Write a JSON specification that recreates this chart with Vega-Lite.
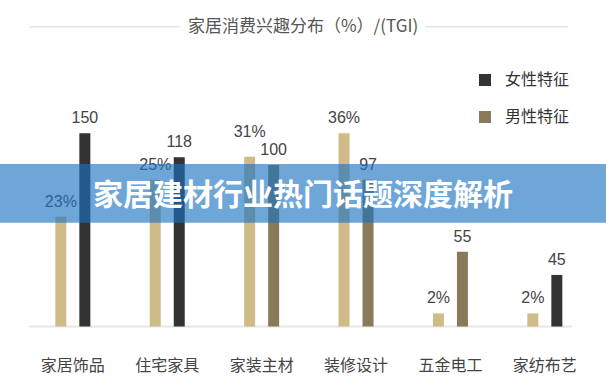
{
  "$schema": "https://vega.github.io/schema/vega-lite/v6.json",
  "width": 606,
  "height": 387,
  "padding": 0,
  "autosize": {"type": "fit", "contains": "padding"},
  "background": "white",
  "config": {"view": {"stroke": null}},
  "datasets": {
    "bars": [
      {"cat": "家居饰品", "kind": "pct", "series": "占比", "value": 23, "label": "23%", "bar": 56.8},
      {"cat": "家居饰品", "kind": "tgi", "series": "女性特征", "value": 150, "label": "150", "bar": 100},
      {"cat": "住宅家具", "kind": "pct", "series": "占比", "value": 25, "label": "25%", "bar": 76.0},
      {"cat": "住宅家具", "kind": "tgi", "series": "女性特征", "value": 118, "label": "118", "bar": 87.6},
      {"cat": "家装主材", "kind": "pct", "series": "占比", "value": 31, "label": "31%", "bar": 87.9},
      {"cat": "家装主材", "kind": "tgi", "series": "男性特征", "value": 100, "label": "100", "bar": 83.6},
      {"cat": "装修设计", "kind": "pct", "series": "占比", "value": 36, "label": "36%", "bar": 100},
      {"cat": "装修设计", "kind": "tgi", "series": "男性特征", "value": 97, "label": "97", "bar": 76.0},
      {"cat": "五金电工", "kind": "pct", "series": "占比", "value": 2, "label": "2%", "bar": 6.8},
      {"cat": "五金电工", "kind": "tgi", "series": "男性特征", "value": 55, "label": "55", "bar": 38.7},
      {"cat": "家纺布艺", "kind": "pct", "series": "占比", "value": 2, "label": "2%", "bar": 6.8},
      {"cat": "家纺布艺", "kind": "tgi", "series": "女性特征", "value": 45, "label": "45", "bar": 26.7}
    ]
  },
  "layer": [
    {
      "data": {"values": [{"name": "baseline"}]},
      "mark": {"type": "rule", "color": "#e6e6e6", "strokeWidth": 2},
      "encoding": {
        "y": {"datum": 0, "type": "quantitative", "axis": null, "scale": {"domain": [-31.3, 169], "nice": false, "zero": false}},
        "x": {"datum": "家居饰品", "type": "nominal", "bandPosition": -0.753, "axis": null,
              "scale": {"type": "band", "domain": ["家居饰品", "住宅家具", "家装主材", "装修设计", "五金电工", "家纺布艺"], "paddingInner": 0.6292, "paddingOuter": 0.5244, "align": 0.559, "round": false}},
        "x2": {"datum": "家纺布艺", "bandPosition": 1.274}
      }
    },
    {
      "data": {"values": [{"name": "left"}]},
      "mark": {"type": "rule", "color": "#e6e6e6", "strokeWidth": 1.5},
      "encoding": {
        "y": {"datum": 155.2, "type": "quantitative", "axis": null},
        "x": {"datum": "家居饰品", "type": "nominal", "bandPosition": -0.753, "axis": null},
        "x2": {"datum": "住宅家具", "bandPosition": 0.863}
      }
    },
    {
      "data": {"values": [{"name": "right"}]},
      "mark": {"type": "rule", "color": "#e6e6e6", "strokeWidth": 1.5},
      "encoding": {
        "y": {"datum": 155.2, "type": "quantitative", "axis": null},
        "x": {"datum": "五金电工", "type": "nominal", "bandPosition": -0.229, "axis": null},
        "x2": {"datum": "家纺布艺", "bandPosition": 1.16}
      }
    },
    {
      "data": {"values": [{"t": "家居消费兴趣分布（%）/(TGI)"}]},
      "mark": {"type": "text", "font": "Noto Sans CJK SC", "fontSize": 17, "color": "#555555", "baseline": "middle", "align": "center"},
      "encoding": {
        "y": {"datum": 155.0, "type": "quantitative", "axis": null},
        "text": {"field": "t"}
      }
    },
    {
      "data": {"name": "bars"},
      "mark": {"type": "bar"},
      "encoding": {
        "x": {"field": "cat", "type": "nominal", "axis": null, "sort": null},
        "xOffset": {"field": "kind", "type": "nominal", "scale": {"domain": ["pct", "tgi"], "paddingInner": 0.5417, "paddingOuter": 0}},
        "y": {"field": "bar", "type": "quantitative", "axis": null},
        "y2": {"datum": 0},
        "color": {"field": "series", "type": "nominal",
                  "scale": {"domain": ["女性特征", "男性特征", "占比"], "range": ["#333333", "#897b59", "#cfbb87"]},
                  "legend": {"values": ["女性特征", "男性特征"], "title": null, "orient": "none", "legendX": 477, "legendY": 72,
                             "symbolType": "square", "symbolSize": 144, "symbolStrokeWidth": 0, "labelFontSize": 16,
                             "labelFont": "Noto Sans CJK SC", "labelColor": "#333333", "rowPadding": 21, "labelOffset": 12, "padding": 0}}
      }
    },
    {
      "data": {"name": "bars"},
      "transform": [
        {"joinaggregate": [{"op": "min", "field": "bar", "as": "minBar"}, {"op": "max", "field": "bar", "as": "maxBar"}], "groupby": ["cat"]},
        {"filter": "!(datum.kind === 'pct' && datum.bar === datum.maxBar && datum.bar - datum.minBar < 8)"}
      ],
      "mark": {"type": "text", "font": "Liberation Sans", "fontSize": 16, "color": "#444444", "baseline": "middle", "align": "center", "dy": -15},
      "encoding": {
        "x": {"field": "cat", "type": "nominal", "axis": null},
        "xOffset": {"field": "kind", "type": "nominal"},
        "y": {"field": "bar", "type": "quantitative", "axis": null},
        "text": {"field": "label"}
      }
    },
    {
      "data": {"name": "bars"},
      "transform": [
        {"joinaggregate": [{"op": "min", "field": "bar", "as": "minBar"}, {"op": "max", "field": "bar", "as": "maxBar"}], "groupby": ["cat"]},
        {"filter": "datum.kind === 'pct' && datum.bar === datum.maxBar && datum.bar - datum.minBar < 8"}
      ],
      "mark": {"type": "text", "font": "Liberation Sans", "fontSize": 16, "color": "#444444", "baseline": "middle", "align": "center", "dy": -25},
      "encoding": {
        "x": {"field": "cat", "type": "nominal", "axis": null},
        "xOffset": {"field": "kind", "type": "nominal"},
        "y": {"field": "bar", "type": "quantitative", "axis": null},
        "text": {"field": "label"}
      }
    },
    {
      "data": {"name": "bars"},
      "transform": [{"filter": "datum.kind === 'tgi'"}],
      "mark": {"type": "text", "font": "Noto Sans CJK SC", "fontSize": 16, "color": "#444444", "baseline": "middle", "align": "center"},
      "encoding": {
        "x": {"field": "cat", "type": "nominal", "axis": null},
        "y": {"datum": -20.6, "type": "quantitative", "axis": null},
        "text": {"field": "cat"}
      }
    },
    {
      "data": {"values": [{"t": "家居建材行业热门话题深度解析"}]},
      "mark": {"type": "rect", "fill": "#1b72c2", "fillOpacity": 0.63},
      "encoding": {
        "y": {"datum": 84.1, "type": "quantitative", "axis": null},
        "y2": {"datum": 53.7}
      }
    },
    {
      "data": {"values": [{"t": "家居建材行业热门话题深度解析"}]},
      "mark": {"type": "text", "font": "Noto Sans CJK SC", "fontSize": 30, "fontWeight": "bold", "color": "#ffffff", "baseline": "middle", "align": "center"},
      "encoding": {
        "y": {"datum": 67.6, "type": "quantitative", "axis": null},
        "text": {"field": "t"}
      }
    }
  ]
}
